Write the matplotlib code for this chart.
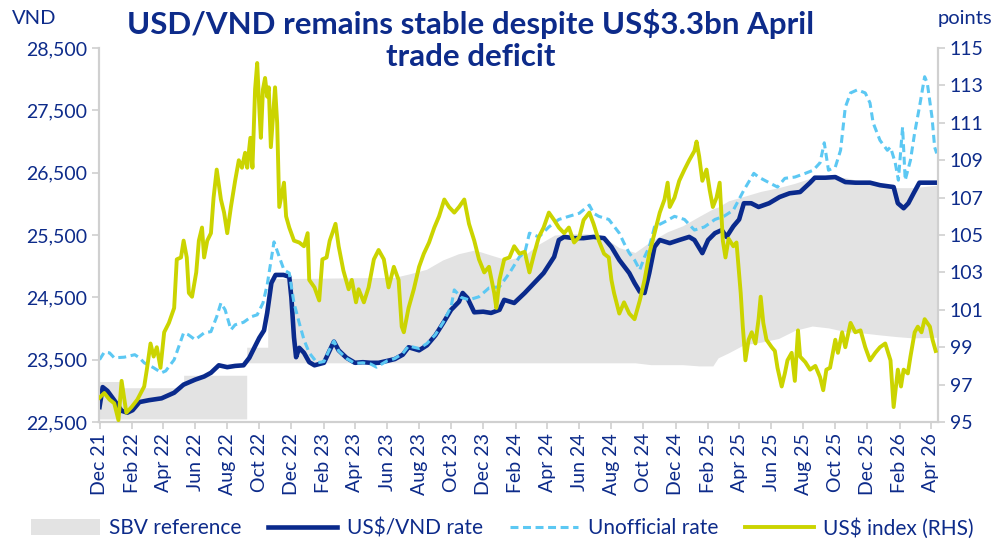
import matplotlib
matplotlib.use("Agg")
import matplotlib.pyplot as plt
import matplotlib.dates as mdates
import pandas as pd
from matplotlib.patches import Patch
from matplotlib.lines import Line2D

# SBV reference band (floor / ceiling), VND per US$
band_dates = ["2021-12-01", "2022-01-10", "2022-01-10", "2022-05-10", "2022-05-10", "2022-09-07",
              "2022-09-07", "2022-10-17", "2022-10-17", "2023-06-15", "2023-07-15", "2023-08-15",
              "2023-09-15", "2023-10-15", "2023-11-15", "2023-12-15", "2024-01-15", "2024-02-15",
              "2024-03-15", "2024-04-15", "2024-05-15", "2024-06-15", "2024-07-15", "2024-08-15",
              "2024-09-15", "2024-10-15", "2024-11-15", "2024-12-15", "2025-01-15", "2025-02-10",
              "2025-02-20", "2025-03-12", "2025-04-10", "2025-05-12", "2025-06-15", "2025-07-16",
              "2025-08-18", "2025-09-18", "2025-10-20", "2025-11-21", "2025-12-22", "2026-01-26",
              "2026-02-25", "2026-04-15"]
band_low = [22550, 22550, 22550, 22550, 22550, 22550,
            23450, 23450, 23450, 23450, 23450, 23450,
            23450, 23450, 23450, 23450, 23450, 23450,
            23450, 23450, 23450, 23450, 23450, 23450,
            23450, 23420, 23420, 23420, 23400, 23400,
            23530, 23610, 23740, 23780, 23840, 23970,
            24040, 24010, 23950, 23930, 23900, 23870,
            23850, 23860]
band_high = [23150, 23150, 23050, 23050, 23250, 23250,
             23700, 23700, 24800, 24820, 24880, 24950,
             25100, 25200, 25260, 25180, 25100, 25160,
             25350, 25500, 25520, 25520, 25480, 25300,
             25220, 25400, 25550, 25650, 25800, 25920,
             25950, 26050, 26120, 26200, 26260, 26330,
             26420, 26440, 26420, 26360, 26320, 26260,
             26260, 26300]

# official interbank US$/VND rate
rate_dates = ["2021-12-01", "2021-12-07", "2021-12-16", "2021-12-29", "2022-01-12", "2022-01-23",
              "2022-02-02", "2022-02-15", "2022-03-05", "2022-03-29", "2022-04-22", "2022-05-10",
              "2022-06-01", "2022-06-18", "2022-07-01", "2022-07-16", "2022-08-01", "2022-08-16",
              "2022-09-01", "2022-09-12", "2022-09-22", "2022-10-01", "2022-10-10", "2022-10-16",
              "2022-10-24", "2022-11-01", "2022-11-16", "2022-11-27", "2022-12-01", "2022-12-06",
              "2022-12-10", "2022-12-16", "2022-12-25", "2023-01-04", "2023-01-14", "2023-02-01",
              "2023-02-12", "2023-02-20", "2023-03-01", "2023-03-16", "2023-04-01", "2023-04-16",
              "2023-05-01", "2023-05-16", "2023-06-01", "2023-06-16", "2023-07-01", "2023-07-12",
              "2023-08-01", "2023-08-16", "2023-09-01", "2023-09-16", "2023-10-01", "2023-10-16",
              "2023-10-23", "2023-11-01", "2023-11-14", "2023-12-01", "2023-12-16", "2024-01-01",
              "2024-01-10", "2024-01-29", "2024-02-18", "2024-03-07", "2024-03-25", "2024-04-14",
              "2024-04-23", "2024-05-03", "2024-05-22", "2024-06-09", "2024-06-28", "2024-07-18",
              "2024-08-01", "2024-08-16", "2024-09-04", "2024-09-14", "2024-09-24", "2024-10-03",
              "2024-10-12", "2024-10-22", "2024-11-01", "2024-11-20", "2024-12-08", "2024-12-27",
              "2025-01-06", "2025-01-21", "2025-02-01", "2025-02-14", "2025-02-27", "2025-03-08",
              "2025-03-21", "2025-04-01", "2025-04-10", "2025-04-24", "2025-05-08", "2025-05-28",
              "2025-06-17", "2025-07-06", "2025-07-26", "2025-08-14", "2025-08-23", "2025-09-12",
              "2025-10-01", "2025-10-20", "2025-11-08", "2025-12-06", "2025-12-25", "2026-01-20",
              "2026-01-28", "2026-02-08", "2026-02-17", "2026-02-27", "2026-03-10", "2026-03-30",
              "2026-04-12"]
rate = [22740, 23060, 23000, 22850, 22680, 22650,
        22690, 22820, 22850, 22880, 22970, 23100,
        23180, 23230, 23290, 23410, 23380, 23400,
        23410, 23530, 23700, 23850, 23970, 24250,
        24730, 24860, 24860, 24830, 24500, 23860,
        23540, 23690, 23610, 23460, 23410, 23450,
        23650, 23790, 23650, 23530, 23450, 23460,
        23450, 23450, 23480, 23510, 23580, 23700,
        23650, 23730, 23890, 24090, 24300, 24430,
        24570, 24490, 24260, 24270, 24250, 24300,
        24460, 24410, 24570, 24730, 24890, 25150,
        25420, 25470, 25450, 25450, 25470, 25450,
        25310, 25100, 24890, 24730, 24590, 24570,
        24890, 25310, 25420, 25370, 25420, 25470,
        25420, 25210, 25420, 25530, 25580, 25470,
        25640, 25750, 26010, 26010, 25950, 26010,
        26110, 26170, 26190, 26340, 26420, 26420,
        26430, 26350, 26340, 26340, 26300, 26270,
        26010, 25930, 26010, 26170, 26340, 26340,
        26340]

# unofficial (free market) rate
unoff_dates = ["2021-12-01", "2021-12-10", "2021-12-20", "2021-12-29", "2022-01-17", "2022-02-06",
               "2022-02-15", "2022-02-24", "2022-03-14", "2022-03-29", "2022-04-06", "2022-04-22",
               "2022-05-10", "2022-05-19", "2022-06-01", "2022-06-18", "2022-07-01", "2022-07-12",
               "2022-07-20", "2022-07-28", "2022-08-08", "2022-08-16", "2022-09-01", "2022-09-16",
               "2022-09-27", "2022-10-08", "2022-10-16", "2022-10-29", "2022-11-08", "2022-11-17",
               "2022-11-27", "2022-12-06", "2022-12-16", "2022-12-25", "2023-01-04", "2023-01-19",
               "2023-02-01", "2023-02-12", "2023-02-20", "2023-03-01", "2023-03-16", "2023-04-01",
               "2023-04-16", "2023-05-01", "2023-05-12", "2023-06-01", "2023-06-16", "2023-07-01",
               "2023-07-12", "2023-08-01", "2023-08-16", "2023-09-01", "2023-09-16", "2023-10-01",
               "2023-10-07", "2023-10-20", "2023-11-04", "2023-11-23", "2023-12-12", "2024-01-01",
               "2024-01-20", "2024-02-08", "2024-02-18", "2024-02-27", "2024-03-16", "2024-04-04",
               "2024-04-23", "2024-05-12", "2024-06-01", "2024-06-20", "2024-06-28", "2024-07-08",
               "2024-07-27", "2024-08-06", "2024-08-16", "2024-08-25", "2024-09-04", "2024-09-14",
               "2024-09-24", "2024-10-03", "2024-10-12", "2024-10-22", "2024-11-10", "2024-11-29",
               "2024-12-18", "2025-01-06", "2025-01-25", "2025-02-14", "2025-03-03", "2025-03-21",
               "2025-04-10", "2025-04-29", "2025-05-08", "2025-05-28", "2025-06-13", "2025-06-27",
               "2025-07-16", "2025-08-05", "2025-08-20", "2025-09-02", "2025-09-10", "2025-09-18",
               "2025-10-01", "2025-10-11", "2025-10-20", "2025-10-30", "2025-11-12", "2025-11-27",
               "2025-12-06", "2025-12-12", "2025-12-25", "2026-01-08", "2026-01-14", "2026-01-23",
               "2026-01-29", "2026-02-06", "2026-02-11", "2026-02-21", "2026-03-01", "2026-03-10",
               "2026-03-20", "2026-03-25", "2026-04-03", "2026-04-08", "2026-04-12"]
unoff = [23500, 23620, 23610, 23530, 23540, 23580,
         23530, 23450, 23370, 23290, 23320, 23500,
         23930, 23900, 23820, 23930, 23950, 24190,
         24410, 24300, 23980, 24060, 24100, 24190,
         24220, 24410, 24700, 25390, 25150, 24940,
         24890, 24410, 24090, 23820, 23610, 23450,
         23470, 23670, 23800, 23640, 23520, 23440,
         23450, 23430, 23380, 23480, 23520, 23600,
         23720, 23680, 23760, 23900, 24100, 24350,
         24620, 24500, 24460, 24510, 24650, 24670,
         24890, 25150, 25210, 25530, 25470, 25630,
         25750, 25800, 25850, 25980, 25850, 25800,
         25750, 25640, 25530, 25370, 25210, 25100,
         24940, 25150, 25310, 25630, 25710, 25800,
         25750, 25580, 25630, 25750, 25800, 25900,
         26220, 26490, 26430, 26340, 26270, 26410,
         26430, 26490, 26540, 26660, 26980, 26540,
         26590, 26860, 27550, 27780, 27830, 27780,
         27620, 27300, 27020, 26860, 26910, 26660,
         26380, 27230, 26380, 26700, 27140, 27550,
         28040, 27940, 27390, 26910, 26810]

# US$ index, points (RHS)
dxy_dates = ["2021-12-01", "2021-12-10", "2021-12-20", "2021-12-29", "2022-01-06", "2022-01-12",
             "2022-01-21", "2022-01-31", "2022-02-11", "2022-02-24", "2022-03-01", "2022-03-08",
             "2022-03-14", "2022-03-20", "2022-03-27", "2022-04-03", "2022-04-12", "2022-04-22",
             "2022-04-27", "2022-05-05", "2022-05-10", "2022-05-16", "2022-05-20", "2022-05-26",
             "2022-06-03", "2022-06-08", "2022-06-14", "2022-06-18", "2022-06-24", "2022-07-01",
             "2022-07-06", "2022-07-12", "2022-07-20", "2022-07-26", "2022-08-01", "2022-08-08",
             "2022-08-16", "2022-08-23", "2022-08-29", "2022-09-04", "2022-09-08", "2022-09-14",
             "2022-09-18", "2022-09-23", "2022-09-27", "2022-10-01", "2022-10-04", "2022-10-08",
             "2022-10-12", "2022-10-16", "2022-10-19", "2022-10-23", "2022-10-31", "2022-11-04",
             "2022-11-08", "2022-11-17", "2022-11-21", "2022-11-27", "2022-12-06", "2022-12-16",
             "2022-12-25", "2023-01-01", "2023-01-04", "2023-01-14", "2023-01-23", "2023-01-29",
             "2023-02-06", "2023-02-12", "2023-02-17", "2023-02-23", "2023-03-01", "2023-03-10",
             "2023-03-20", "2023-03-26", "2023-04-03", "2023-04-08", "2023-04-18", "2023-04-27",
             "2023-05-07", "2023-05-16", "2023-05-26", "2023-06-04", "2023-06-14", "2023-06-23",
             "2023-06-29", "2023-07-03", "2023-07-12", "2023-07-22", "2023-08-01", "2023-08-10",
             "2023-08-20", "2023-08-30", "2023-09-08", "2023-09-18", "2023-09-27", "2023-10-07",
             "2023-10-16", "2023-10-26", "2023-11-04", "2023-11-14", "2023-11-23", "2023-12-03",
             "2023-12-12", "2023-12-22", "2023-12-26", "2024-01-01", "2024-01-10", "2024-01-20",
             "2024-01-29", "2024-02-08", "2024-02-18", "2024-02-27", "2024-03-07", "2024-03-16",
             "2024-03-25", "2024-04-04", "2024-04-14", "2024-04-23", "2024-05-03", "2024-05-12",
             "2024-05-22", "2024-06-01", "2024-06-09", "2024-06-20", "2024-06-28", "2024-07-08",
             "2024-07-18", "2024-07-27", "2024-08-01", "2024-08-06", "2024-08-16", "2024-08-25",
             "2024-09-04", "2024-09-14", "2024-09-24", "2024-10-03", "2024-10-12", "2024-10-22",
             "2024-11-01", "2024-11-10", "2024-11-16", "2024-11-20", "2024-11-29", "2024-12-08",
             "2024-12-18", "2024-12-27", "2025-01-06", "2025-01-10", "2025-01-15", "2025-01-21",
             "2025-01-29", "2025-02-04", "2025-02-10", "2025-02-17", "2025-02-23", "2025-03-01",
             "2025-03-06", "2025-03-12", "2025-03-21", "2025-03-27", "2025-04-04", "2025-04-08",
             "2025-04-13", "2025-04-19", "2025-04-25", "2025-05-02", "2025-05-08", "2025-05-12",
             "2025-05-17", "2025-05-23", "2025-06-02", "2025-06-08", "2025-06-13", "2025-06-21",
             "2025-06-27", "2025-07-02", "2025-07-10", "2025-07-16", "2025-07-22", "2025-07-26",
             "2025-08-05", "2025-08-14", "2025-08-24", "2025-09-02", "2025-09-08", "2025-09-14",
             "2025-09-21", "2025-10-01", "2025-10-06", "2025-10-14", "2025-10-20", "2025-10-30",
             "2025-11-08", "2025-11-18", "2025-11-27", "2025-12-06", "2025-12-16", "2025-12-25",
             "2026-01-04", "2026-01-14", "2026-01-20", "2026-01-28", "2026-02-03", "2026-02-08",
             "2026-02-16", "2026-02-21", "2026-03-01", "2026-03-07", "2026-03-14", "2026-03-20",
             "2026-03-30", "2026-04-04", "2026-04-10"]
dxy = [96.3, 96.55, 96.2, 96.0, 95.1, 97.2,
       95.5, 95.8, 96.2, 96.9, 97.8, 99.2,
       98.5, 99.0, 97.9, 99.8, 100.3, 101.1,
       103.7, 103.8, 104.7, 103.8, 101.9, 101.7,
       103.0, 104.7, 105.4, 103.8, 104.7, 105.1,
       107.0, 108.5, 106.9, 106.2, 105.1, 106.5,
       107.9, 109.0, 108.6, 109.4, 108.6, 110.2,
       108.6, 112.8, 114.2, 111.8, 110.2, 112.8,
       113.4, 112.4, 112.9, 109.7, 112.9, 111.0,
       106.5, 107.8, 106.0, 105.4, 104.7, 104.6,
       104.4, 105.1, 102.6, 102.2, 101.5, 103.7,
       103.8, 104.7, 105.1, 105.6, 104.4, 103.1,
       102.1, 102.6, 101.4, 102.1, 101.4, 102.2,
       103.7, 104.2, 103.7, 102.2, 103.3, 102.6,
       100.1, 99.8, 101.1, 102.1, 103.3, 104.0,
       104.6, 105.4, 106.0, 106.9, 106.5, 106.2,
       106.5, 106.9, 105.6, 104.7, 103.7, 103.0,
       103.3, 101.9, 101.1, 102.6, 103.7, 103.8,
       104.4, 104.0, 104.1, 103.0, 104.0, 104.9,
       105.4, 106.2, 105.8, 105.4, 105.1, 105.4,
       104.6, 104.9, 105.8, 106.2, 105.6, 104.7,
       104.0, 103.8, 102.6, 101.9, 100.8, 101.4,
       100.8, 100.5, 101.5, 102.6, 104.0, 105.1,
       106.2, 106.9, 107.8, 106.5, 107.0, 107.9,
       108.5, 109.0, 109.5, 110.0, 109.2, 107.9,
       108.5, 107.4, 106.5, 107.0, 107.8, 104.7,
       103.8, 104.8, 104.4, 104.6, 101.9, 100.1,
       98.3, 99.4, 99.8, 99.2, 100.5, 101.7,
       100.3, 99.4, 99.0, 98.8, 97.9, 96.9,
       97.6, 98.3, 98.7, 97.2, 99.9, 98.5,
       98.2, 97.8, 98.0, 97.4, 96.7, 97.8,
       97.9, 99.4, 98.7, 99.8, 99.0, 100.3,
       99.8, 99.9, 99.0, 98.3, 98.7, 99.0,
       99.2, 98.3, 95.8, 97.8, 96.9, 97.8,
       97.6, 98.5, 99.8, 100.1, 99.8, 100.5,
       100.1, 99.4, 98.8]

NAVY = "#0a2a8c"
SKY = "#5cc8f3"
LIME = "#cbd400"
GREY = "#e3e3e3"
AXIS = "#d0d0d0"
TXT = "#0d2b8a"

plt.rcParams["font.family"] = ["Lato", "DejaVu Sans"]

fig = plt.figure(figsize=(9.95, 5.4), dpi=100)
ax = fig.add_axes([0.0995, 0.2185, 0.843, 0.6925])
ax2 = ax.twinx()

bd = pd.to_datetime(band_dates)
ax.fill_between(bd, band_low, band_high, color=GREY, linewidth=0, zorder=1)
ax.plot(pd.to_datetime(rate_dates), rate, color=NAVY, lw=3.3, zorder=3, solid_joinstyle="round")
ax.plot(pd.to_datetime(unoff_dates), unoff, color=SKY, lw=2.2, ls=(0, (2.6, 1.5)), zorder=4)
ax2.plot(pd.to_datetime(dxy_dates), dxy, color=LIME, lw=2.8, zorder=5, solid_joinstyle="round")

ax.set_ylim(22500, 28500)
ax.set_yticks(range(22500, 28501, 1000))
ax.yaxis.set_major_formatter(matplotlib.ticker.FuncFormatter(lambda v, p: f"{int(v):,}"))
ax2.set_ylim(95, 115)
ax2.set_yticks(range(95, 116, 2))

ax.set_xlim(pd.Timestamp("2021-11-30"), pd.Timestamp("2026-04-14"))
ax.xaxis.set_major_locator(mdates.MonthLocator(bymonth=[2, 4, 6, 8, 10, 12]))
ax.xaxis.set_major_formatter(mdates.DateFormatter("%b %y"))
for lab in ax.get_xticklabels():
    lab.set_rotation(90)

for a in (ax, ax2):
    a.spines["top"].set_visible(False)
    for s in ("left", "right", "bottom"):
        a.spines[s].set_color(AXIS)
        a.spines[s].set_linewidth(1.5)
    a.tick_params(colors=AXIS, labelcolor=TXT, labelsize=14, length=5, width=1.2)
ax.tick_params(axis="x", pad=3)

fig.text(0.012, 0.965, "VND", color=TXT, fontsize=14.5, va="center")
fig.text(0.942, 0.965, "points", color=TXT, fontsize=14.5, va="center")
fig.text(0.473, 0.926, "USD/VND remains stable despite US$3.3bn April\ntrade deficit",
         ha="center", va="center", color=TXT, fontsize=22.5, fontweight="bold", linespacing=1.15)

handles = [Patch(facecolor=GREY, edgecolor="none"),
           Line2D([], [], color=NAVY, lw=3.3),
           Line2D([], [], color=SKY, lw=2.2, ls=(0, (2.6, 1.5))),
           Line2D([], [], color=LIME, lw=2.8)]
labels = ["SBV reference", "US$/VND rate", "Unofficial rate", "US$ index (RHS)"]
leg = fig.legend(handles, labels, loc="center", bbox_to_anchor=(0.505, 0.022), ncol=4, frameon=False,
                 fontsize=15, handlelength=3.3, handleheight=0.8, columnspacing=1.3, handletextpad=0.45)
for t in leg.get_texts():
    t.set_color(TXT)

fig.savefig("out.png", dpi=100)
